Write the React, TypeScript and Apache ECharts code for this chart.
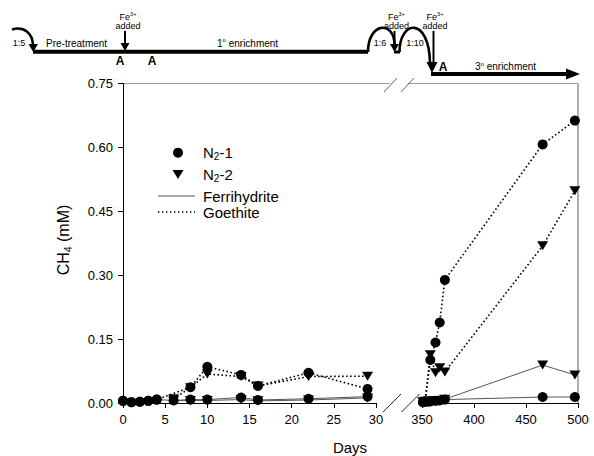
import React, { useEffect, useRef } from "react";
import * as echarts from "echarts";

// ---------- data (day, CH4 mM) ----------
const n1GoethiteLeft = [[0, 0.005], [1, 0.002], [2, 0.003], [3, 0.005], [4, 0.008], [8, 0.037], [10, 0.085], [14, 0.066], [16, 0.04], [22, 0.071], [29, 0.033]];
const n2GoethiteLeft = [[6, 0.01], [8, 0.036], [10, 0.068], [14, 0.062], [16, 0.04], [22, 0.062], [29, 0.063]];
const n1FerriLeft = [[0, 0.005], [1, 0.002], [2, 0.003], [3, 0.005], [4, 0.008], [6, 0.006], [8, 0.008], [10, 0.008], [14, 0.013], [16, 0.007], [22, 0.01], [29, 0.015]];
const n2FerriLeft = [[6, 0.005], [8, 0.006], [10, 0.006], [14, 0.008], [16, 0.005], [22, 0.007], [29, 0.012]];

const n1GoethiteRight = [[351, 0.002], [353, 0.004], [358, 0.101], [363, 0.142], [367, 0.189], [372, 0.289], [466, 0.607], [497, 0.663]];
const n2GoethiteRight = [[351, 0.002], [353, 0.004], [358, 0.113], [363, 0.071], [367, 0.083], [372, 0.073], [466, 0.369], [497, 0.498]];
const n1FerriRight = [[351, 0.002], [353, 0.003], [356, 0.003], [358, 0.004], [363, 0.005], [367, 0.006], [372, 0.008], [466, 0.014], [497, 0.014]];
const n2FerriRight = [[351, 0.003], [353, 0.003], [356, 0.004], [358, 0.004], [363, 0.005], [367, 0.006], [372, 0.009], [466, 0.089], [497, 0.066]];

const leftRange = [0, 30, 5];
const rightRange = [350, 500, 50];
const yRange = [0, 0.75, 0.15];

const FF = '"Liberation Sans", Arial, sans-serif';

let measureCtx: CanvasRenderingContext2D | null = null;
function tw(text: string, size: number, weight = "normal") {
  if (!measureCtx) measureCtx = document.createElement("canvas").getContext("2d");
  measureCtx!.font = `${weight} ${size}px "Liberation Sans", Arial, sans-serif`;
  return measureCtx!.measureText(text).width;
}

type Part = [string, number, number, string?];
function rt(x: number, y: number, parts: Part[], align: "left" | "center" = "left") {
  const w = parts.reduce((s, p) => s + tw(p[0], p[1], p[3] || "normal"), 0);
  let cx = align === "center" ? x - w / 2 : x;
  return parts.map((p) => {
    const el = {
      type: "text",
      x: cx,
      y: y + p[2],
      silent: true,
      style: {
        text: p[0],
        fontSize: p[1],
        fontFamily: FF,
        fontWeight: p[3] || "normal",
        fill: "#000",
        textAlign: "left",
        textVerticalAlign: "middle",
        align: "left",
        verticalAlign: "middle",
      },
    };
    cx += tw(p[0], p[1], p[3] || "normal");
    return el;
  });
}

const line = (x1: number, y1: number, x2: number, y2: number, stroke = "#000", lineWidth = 1, extra: any = {}) => ({
  type: "line",
  silent: true,
  shape: { x1, y1, x2, y2 },
  style: { stroke, lineWidth, ...extra },
});
const poly = (points: number[][], fill = "#000") => ({ type: "polygon", silent: true, shape: { points }, style: { fill } });
const bez = (x1: number, y1: number, c1x: number, c1y: number, c2x: number, c2y: number, x2: number, y2: number, w = 2.6) => ({
  type: "bezierCurve",
  silent: true,
  shape: { x1, y1, cpx1: c1x, cpy1: c1y, cpx2: c2x, cpy2: c2y, x2, y2 },
  style: { stroke: "#000", lineWidth: w, fill: null },
});

function buildGraphic() {
  const g: any[] = [];
  // ---- timeline ----
  g.push(...rt(19, 43, [["1:5", 9, 0]], "center"));
  g.push(bez(12, 29.5, 24, 26, 32.5, 33, 33, 45));
  g.push(poly([[28.5, 44], [38, 44], [33.2, 52]]));
  g.push(line(33, 51.7, 368, 51.7, "#000", 4));
  g.push(...rt(46, 43, [["Pre-treatment", 10, 0]]));
  g.push(...rt(128, 16.5, [["Fe", 9, 0], ["3+", 5.5, -2.5]], "center"));
  g.push(...rt(128, 25.5, [["added", 9, 0]], "center"));
  g.push(line(125, 31, 125, 44, "#000", 2));
  g.push(poly([[120.5, 43], [129.5, 43], [125, 51]]));
  g.push(...rt(120, 61, [["A", 12, 0, "bold"]], "center"));
  g.push(...rt(152, 61, [["A", 12, 0, "bold"]], "center"));
  g.push(...rt(217, 43, [["1", 10, 0], ["o", 6, -3], [" enrichment", 10, 0]]));

  // arch 1:6
  g.push(bez(368, 52, 368, 22, 394.5, 20, 394.5, 45));
  g.push(poly([[390, 44], [399, 44], [394.5, 52]]));
  g.push(line(394, 52, 400, 52, "#000", 3));
  g.push(...rt(380, 43, [["1:6", 9, 0]], "center"));
  g.push(...rt(396.5, 16.5, [["Fe", 9, 0], ["3+", 5.5, -2.5]], "center"));
  g.push(...rt(396.5, 25.5, [["added", 9, 0]], "center"));
  g.push(line(394.5, 31, 394.5, 45, "#000", 2));
  // arch 1:10
  g.push(bez(399.5, 52, 399.5, 20, 429, 16, 430, 63));
  g.push(...rt(415, 43, [["1:10", 9, 0]], "center"));
  g.push(...rt(435, 16.5, [["Fe", 9, 0], ["3+", 5.5, -2.5]], "center"));
  g.push(...rt(435, 25.5, [["added", 9, 0]], "center"));
  g.push(line(433.5, 31, 433.5, 63, "#000", 2));
  g.push(poly([[426.5, 62], [437.5, 62], [432, 73]]));
  g.push(...rt(443, 66.5, [["A", 12, 0, "bold"]], "center"));
  g.push(line(431, 74, 568, 74, "#000", 4));
  g.push(poly([[566, 68.5], [580, 74], [566, 79.5]]));
  g.push(...rt(475, 66.5, [["3", 10, 0], ["o", 6, -3], [" enrichment", 10, 0]]));

  // ---- frame & breaks ----
  g.push(line(123, 83.5, 390, 83.5, "#9a9a9a", 1));
  g.push(line(408, 83.5, 578, 83.5, "#9a9a9a", 1));
  g.push(line(578, 83.5, 578, 403, "#8a8a8a", 1.4));
  g.push(line(384, 92, 397, 78, "#666", 1));
  g.push(line(401, 92, 414, 78, "#666", 1));
  g.push(line(383, 412, 401, 394, "#222", 1));
  g.push(line(401.5, 412, 419.5, 394, "#222", 1));
  g.push(line(419.5, 403, 423, 403, "#000", 1));

  // ---- axis titles ----
  g.push(...rt(350, 447, [["Days", 15, 0]], "center"));
  const yl = rt(0, 0, [["CH", 16, 0], ["4", 10.5, 4.5], [" (mM)", 16, 0]], "center");
  g.push({ type: "group", x: 63, y: 240, rotation: Math.PI / 2, children: yl });

  // ---- legend ----
  g.push({ type: "circle", silent: true, shape: { cx: 178, cy: 152.7, r: 5 }, style: { fill: "#000" } });
  g.push(poly([[172.5, 170], [183.5, 170], [178, 179]]));
  g.push(line(158, 196, 195, 196, "#555", 1));
  g.push(line(158, 212, 195, 212, "#000", 1.4, { lineDash: [1.4, 2.6] }));
  g.push(...rt(203, 152.5, [["N", 15, 0], ["2", 10, 4], ["-1", 15, 0]]));
  g.push(...rt(203, 174, [["N", 15, 0], ["2", 10, 4], ["-2", 15, 0]]));
  g.push(...rt(203, 196, [["Ferrihydrite", 15, 0]]));
  g.push(...rt(203, 212, [["Goethite", 15, 0]]));
  return g;
}

function mk(data: number[][], grid: number, tri: boolean, dotted: boolean) {
  return {
    type: "line",
    xAxisIndex: grid,
    yAxisIndex: grid,
    data,
    clip: false,
    symbol: tri ? "triangle" : "circle",
    symbolRotate: tri ? 180 : 0,
    symbolSize: tri ? [11, 9] : 10,
    itemStyle: { color: "#000" },
    lineStyle: dotted ? { color: "#000", width: 1.6, type: [1.6, 2.4] } : { color: "#555", width: 1, type: "solid" },
    z: dotted ? 2 : 3,
    silent: true,
  };
}

export default function App() {
  const ref = useRef<HTMLDivElement>(null);
  useEffect(() => {
    const chart = echarts.init(ref.current!, null, { renderer: "svg" });
    const axLabel = { color: "#000", fontSize: 13, fontFamily: FF };
    const xBase = (gi: number, r: number[]) => ({
      type: "value",
      gridIndex: gi,
      min: r[0],
      max: r[1],
      interval: r[2],
      axisLine: { show: true, lineStyle: { color: "#000", width: 1 } },
      axisTick: { show: true, length: 5, lineStyle: { color: "#000" } },
      axisLabel: { ...axLabel, margin: 10 },
      splitLine: { show: false },
    });
    chart.setOption({
      animation: false,
      backgroundColor: "#fff",
      grid: [
        { left: 123, top: 83.5, width: 253, height: 319.5 },
        { left: 422, top: 83.5, width: 156, height: 319.5 },
      ],
      xAxis: [xBase(0, leftRange), xBase(1, rightRange)],
      yAxis: [
        {
          type: "value",
          gridIndex: 0,
          min: yRange[0],
          max: yRange[1],
          interval: yRange[2],
          axisLine: { show: true, lineStyle: { color: "#000", width: 1 } },
          axisTick: { show: true, length: 5, lineStyle: { color: "#000" } },
          axisLabel: { ...axLabel, margin: 10, formatter: (v: number) => v.toFixed(2) },
          splitLine: { show: false },
        },
        { type: "value", gridIndex: 1, min: yRange[0], max: yRange[1], show: false, splitLine: { show: false } },
      ],
      series: [
        mk(n1GoethiteLeft, 0, false, true),
        mk(n2GoethiteLeft, 0, true, true),
        mk(n1FerriLeft, 0, false, false),
        mk(n2FerriLeft, 0, true, false),
        mk(n1GoethiteRight, 1, false, true),
        mk(n2GoethiteRight, 1, true, true),
        mk(n1FerriRight, 1, false, false),
        mk(n2FerriRight, 1, true, false),
      ],
      graphic: buildGraphic(),
    });
    return () => chart.dispose();
  }, []);
  return (
    <div
      ref={ref}
      style={{ position: "fixed", left: 0, top: 0, width: 594, height: 456, background: "#fff" }}
    />
  );
}
